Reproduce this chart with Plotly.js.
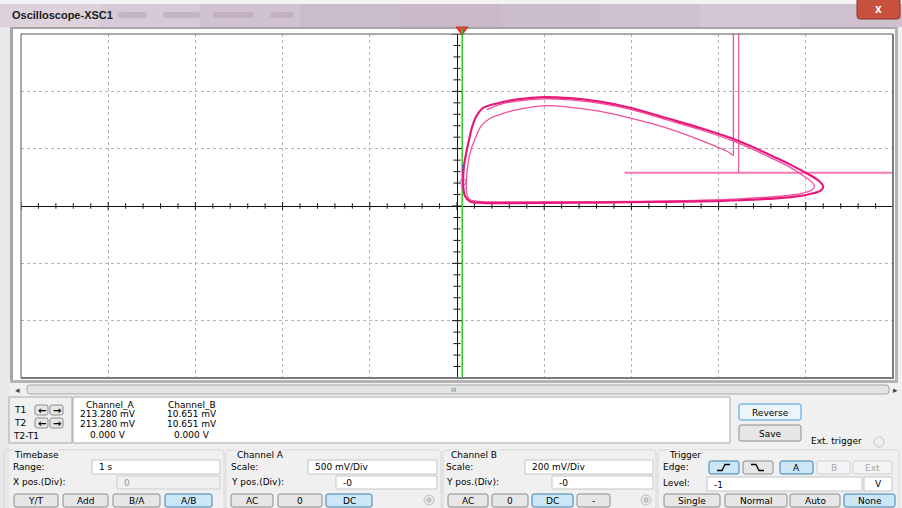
<!DOCTYPE html>
<html><head><meta charset="utf-8">
<script src="https://cdn.plot.ly/plotly-3.0.1.min.js"></script>
<style>html,body{margin:0;padding:0;background:#f0f0f0;overflow:hidden}#chart{width:902px;height:508px}</style>
</head><body><div id="chart"></div>
<script>
// ---------- DATA (in screen divisions: x -5..5, y -3..3) ----------
const outerX = [0.30,0.15,0.09,0.07,0.08,0.11,0.14,0.17,0.22,0.30,0.49,0.69,1.00,1.30,1.64,2.00,2.41,2.79,3.17,3.36,3.63,3.85,4.01,4.14,4.20,4.17,4.05,3.85,3.63,3.25,2.80,2.20,1.60,1.00,0.60,0.30];
const outerY = [0.055,0.08,0.18,0.43,0.70,0.95,1.17,1.36,1.56,1.71,1.80,1.86,1.90,1.88,1.82,1.71,1.53,1.36,1.17,1.05,0.86,0.70,0.57,0.45,0.34,0.27,0.21,0.16,0.13,0.10,0.08,0.07,0.06,0.055,0.05,0.055];
const innerX = [3.17,3.10,2.79,2.41,2.00,1.64,1.30,1.01,0.69,0.50,0.38,0.27,0.21,0.16,0.13,0.11,0.11,0.14,0.25,0.60,1.20,2.00,2.80,3.30,3.70,3.95,4.07,4.10,4.06,3.95,3.80,3.60,3.36,3.17,2.79,2.41,2.00,1.64,1.30,1.00,0.69,0.49,0.34];
const innerY = [0.88,0.95,1.15,1.36,1.53,1.65,1.72,1.75,1.68,1.60,1.53,1.38,1.18,0.98,0.78,0.50,0.25,0.12,0.08,0.07,0.07,0.08,0.10,0.13,0.17,0.22,0.28,0.34,0.43,0.55,0.69,0.84,1.01,1.13,1.33,1.50,1.68,1.79,1.85,1.87,1.83,1.77,1.68];
const vert1X = [3.17,3.17], vert1Y = [0.88,3.5];
const vert2X = [3.23,3.23], vert2Y = [0.58,3.5];
const horizX = [1.92,5.5],  horizY = [0.58,0.58];
const cursorX = 0.06;
const markX = [0.07,0.07], markY = [0.31,0.72];
const readHeads = ['Channel_A','Channel_B'];
const chanA = ['213.280 mV','213.280 mV','0.000 V'];
const chanB = ['10.651 mV','10.651 mV','0.000 V'];
const cursorLabels = ['T1','T2','T2-T1'];

// ---------- geometry helpers ----------
const L=21,T=34,W=872,H=344;
const PX = x => (x-L)/W, PY = y => 1-(y-T)/H;
const shapes=[], ann=[];
const FONT='DejaVu Sans';
function rect(x0,y0,x1,y1,fill,lc,lw,layer){shapes.push({type:'rect',xref:'paper',yref:'paper',x0:PX(x0),x1:PX(x1),y0:PY(y1),y1:PY(y0),fillcolor:fill||'rgba(0,0,0,0)',line:{color:lc||'rgba(0,0,0,0)',width:lc?(lw||1):0},layer:layer||'above'});}
function line(x0,y0,x1,y1,c,w){shapes.push({type:'line',xref:'paper',yref:'paper',x0:PX(x0),x1:PX(x1),y0:PY(y0),y1:PY(y1),line:{color:c,width:w||1}});}
function path(pts,c,w,fill){let d='M'+pts.map(p=>PX(p[0])+','+PY(p[1])).join(' L');if(fill)d+=' Z';shapes.push({type:'path',xref:'paper',yref:'paper',path:d,line:{color:c,width:w||1},fillcolor:fill||'rgba(0,0,0,0)'});}
function rrect(x0,y0,x1,y1,r,fill,lc,lw){const p=(x,y)=>PX(x)+','+PY(y);
 const d='M'+p(x0+r,y0)+' L'+p(x1-r,y0)+' Q'+p(x1,y0)+' '+p(x1,y0+r)+' L'+p(x1,y1-r)+' Q'+p(x1,y1)+' '+p(x1-r,y1)+' L'+p(x0+r,y1)+' Q'+p(x0,y1)+' '+p(x0,y1-r)+' L'+p(x0,y0+r)+' Q'+p(x0,y0)+' '+p(x0+r,y0)+' Z';
 shapes.push({type:'path',xref:'paper',yref:'paper',path:d,fillcolor:fill,line:{color:lc,width:lw||1}});}
function circ(cx,cy,r,fill,lc){shapes.push({type:'circle',xref:'paper',yref:'paper',x0:PX(cx-r),x1:PX(cx+r),y0:PY(cy+r),y1:PY(cy-r),fillcolor:fill,line:{color:lc,width:1}});}
function txt(x,y,s,o){o=o||{};ann.push({xref:'paper',yref:'paper',x:PX(x),y:PY(y),text:s,showarrow:false,xanchor:o.anchor||'left',yanchor:'middle',
 font:{family:o.family||FONT,size:o.size||9,color:o.color||'#000',weight:o.weight||'normal'},bgcolor:o.bg||'rgba(0,0,0,0)',borderpad:0});}
function btn(x0,y0,x1,y1,label,state){
 const st={normal:['#e6e6e6','#8c8c8c','#000'],active:['#cbe6f7','#3c7fb1','#000'],disabled:['#f4f4f4','#cfcfcf','#a8a8a8'],focus:['#eef6fc','#3c9bd6','#000']}[state||'normal'];
 rrect(x0,y0,x1,y1,2,st[0],st[1],1);
 if(label)txt((x0+x1)/2,(y0+y1)/2+0.5,label,{anchor:'center',color:st[2]});
}
function input(x0,y0,x1,y1,val,dis){rect(x0,y0,x1,y1,dis?'#f0f0f0':'#ffffff',dis?'#cdcdcd':'#c4c4c4',1);txt(x0+6,(y0+y1)/2+0.5,val,{color:dis?'#9a9a9a':'#000'});}

// ---------- window chrome ----------
rect(0,0,902,508,'#f0f0f0',null,0,'below');
// title bar with a soft stepped gradient
const tb=['#dcd2dc','#d6cad6','#d0c2d0','#cbbccb','#c8b8c8','#cbbdcb','#cfc2cf','#d3c7d3','#cec0ce'];
tb.forEach((c,i)=>rect(i*100,4,i*100+102,27,c));
rect(0,0,902,4,'#f4f2f4');
[[118,147],[163,200],[213,253],[270,293]].forEach(s=>rrect(s[0],12,s[1],18,3,'rgba(150,130,150,0.28)','rgba(0,0,0,0)',0));
txt(11,15,'Oscilloscope-XSC1',{family:'Liberation Sans',size:11,weight:'bold',color:'#1b1b1b'});
rrect(857,-3,900,19,3,'#c8503f','#8f3328',1);
txt(878.5,9,'x',{anchor:'center',size:12,weight:'bold',color:'#ffffff',family:'Liberation Sans'});
rect(0,27,10,508,'#ebe8ec');
rect(13,29,896,380,'#ffffff',null,0,'below');
rect(10,27,898,29,'#a6a6a6');
rect(10,27,13,383,'#a6a6a6');
rect(10,380,898,383,'#b4b4b4');
rect(895,27,898,383,'#b4b4b4');
// plot frame
line(21,34,893,34,'#555',1);
line(21,34,21,378,'#555',1);
line(893,34,893,379,'#7a7a7a',2);
line(21,378,894,378,'#7a7a7a',2);
// trigger cursor marker
path([[456,27],[468,27],[462,35]],'#d03030',1,'#e04040');
line(462,28,462,34,'#22cc22',1.5);

// scrollbar
rrect(27,385,889,394,3,'#e4e4e4','#a8a8a8',1);
txt(17,389.5,'◂',{anchor:'center',size:9,color:'#444'});
txt(896,389.5,'▸',{anchor:'center',size:9,color:'#444'});
txt(454,389.5,'III',{anchor:'center',size:6,color:'#777'});

// cursor / readout panel
rect(9,397,72,443,'#f0f0f0','#a8a8a8',1);
[410,423].forEach((y,i)=>{txt(13,y,cursorLabels[i]);
 btn(35,y-5,48,y+5,'','normal');btn(50,y-5,63,y+5,'','normal');
 txt(41.5,y,'←',{anchor:'center',size:10,weight:'bold'});txt(56.5,y,'→',{anchor:'center',size:10,weight:'bold'});});
txt(12,436,cursorLabels[2]);
rect(73,397,730,443,'#ffffff','#a8a8a8',1);
txt(110,404.5,readHeads[0],{anchor:'center'});
txt(192,404.5,readHeads[1],{anchor:'center'});
chanA.forEach((v,i)=>txt(108,414+i*10.3,v,{anchor:'center'}));
chanB.forEach((v,i)=>txt(192,414+i*10.3,v,{anchor:'center'}));
btn(739,404,801,420,'Reverse','focus');
btn(739,425,801,441,'Save','normal');
txt(810,441,'Ext. trigger');
circ(879,442,5,'#f0f0f0','#c4c4c4');

// group boxes
rrect(4,450,224,512,3,'rgba(0,0,0,0)','#d6d6d6',1);
rrect(226,450,441,512,3,'rgba(0,0,0,0)','#d6d6d6',1);
rrect(443,450,656,512,3,'rgba(0,0,0,0)','#d6d6d6',1);
rrect(658,450,899,512,3,'rgba(0,0,0,0)','#d6d6d6',1);

// Timebase
txt(13,454.5,'Timebase',{bg:'#f0f0f0'});
txt(12,467,'Range:'); input(92,460,220,474,'1 s');
txt(12,482,'X pos.(Div):'); input(117,476,220,489,'0',true);
btn(14,494,58,507,'Y/T','normal');btn(63,494,108,507,'Add','normal');btn(113,494,160,507,'B/A','normal');btn(165,494,212,507,'A/B','active');

// Channel A
txt(236,454.5,'Channel A',{bg:'#f0f0f0'});
txt(230,467,'Scale:'); input(308,460,437,474,'500 mV/Div');
txt(230,482,'Y pos.(Div):'); input(336,476,437,489,'-0');
btn(231,494,273,507,'AC','normal');btn(278,494,322,507,'0','normal');btn(326,494,372,507,'DC','active');
circ(429,500,5,'#e8e8e8','#c0c0c0');circ(429,500,2,'#d0d0d0','#b0b0b0');

// Channel B
txt(450,454.5,'Channel B',{bg:'#f0f0f0'});
txt(445,467,'Scale:'); input(525,460,653,474,'200 mV/Div');
txt(445,482,'Y pos.(Div):'); input(552,476,653,489,'-0');
btn(448,494,488,507,'AC','normal');btn(492,494,528,507,'0','normal');btn(532,494,573,507,'DC','active');btn(577,494,610,507,'-','normal');
circ(646,500,5,'#e8e8e8','#c0c0c0');circ(646,500,2,'#d0d0d0','#b0b0b0');

// Trigger
txt(668,454.5,'Trigger',{bg:'#f0f0f0'});
txt(662,467,'Edge:');
btn(709,461,739,474,'','active');path([[717,470.5],[722,470.5],[725,464.5],[730,464.5]],'#000',1.3);
btn(743,461,773,474,'','normal');path([[751,464.5],[756,464.5],[759,470.5],[764,470.5]],'#000',1.3);
btn(780,461,813,474,'A','active');btn(817,461,850,474,'B','disabled');btn(853,461,892,474,'Ext','disabled');
txt(662,483,'Level:'); input(707,477,862,491,'-1');
rect(864,477,892,491,'#ffffff','#c4c4c4',1);txt(878,484,'V',{anchor:'center'});
btn(664,494,720,507,'Single','normal');btn(725,494,787,507,'Normal','normal');btn(790,494,840,507,'Auto','normal');btn(844,494,895,507,'None','active');

// ---------- axis tick marks on the centre cross ----------
const divX = W/10, divY = H/6;
const tkX=[],tkY=[];
for(let k=-25;k<=25;k++){const len=(k%5===0)?4:2.7;const x=k*0.2;tkX.push(x,x,null);tkY.push(-len/divY,len/divY,null);}
for(let k=-15;k<=15;k++){const len=(k%5===0)?5:3.5;const y=k*0.2;tkX.push(-len/divX,len/divX,null);tkY.push(y,y,null);}

const traces=[
 {x:tkX,y:tkY,mode:'lines',line:{color:'#111',width:1},hoverinfo:'skip'},
 {x:[cursorX,cursorX],y:[-3,3],mode:'lines',line:{color:'#2fd12f',width:1.6}},
 {x:markX,y:markY,mode:'lines',line:{color:'#3a3ad0',width:1.5}},
 {x:[markX[0]],y:[0.42],mode:'markers',marker:{symbol:'circle-open',size:6,color:'#7b8fb0',line:{width:1}}},
 {x:horizX,y:horizY,mode:'lines',line:{color:'#f27ab4',width:2}},
 {x:vert1X,y:vert1Y,mode:'lines',line:{color:'#ee4d97',width:1.3}},
 {x:vert2X,y:vert2Y,mode:'lines',line:{color:'#f0609f',width:1.3}},
 {x:innerX,y:innerY,mode:'lines',line:{color:'#f0509a',width:1.3,shape:'spline',smoothing:1}},
 {x:outerX,y:outerY,mode:'lines',line:{color:'#e8187b',width:2.2,shape:'spline',smoothing:1}}
];
const ax={dtick:1,tick0:0,showgrid:true,gridcolor:'#b5b5b5',griddash:'dot',gridwidth:1,zeroline:true,zerolinecolor:'#111',zerolinewidth:1,showticklabels:false,ticks:'',showline:false,fixedrange:true};
const layout={width:902,height:508,margin:{l:L,r:902-L-W,t:T,b:508-T-H,pad:0},paper_bgcolor:'#f0f0f0',plot_bgcolor:'#ffffff',showlegend:false,
 xaxis:Object.assign({range:[-5,5]},ax),yaxis:Object.assign({range:[-3,3]},ax),shapes:shapes,annotations:ann};
Plotly.newPlot('chart',traces,layout,{staticPlot:true,displayModeBar:false});
</script></body></html>
